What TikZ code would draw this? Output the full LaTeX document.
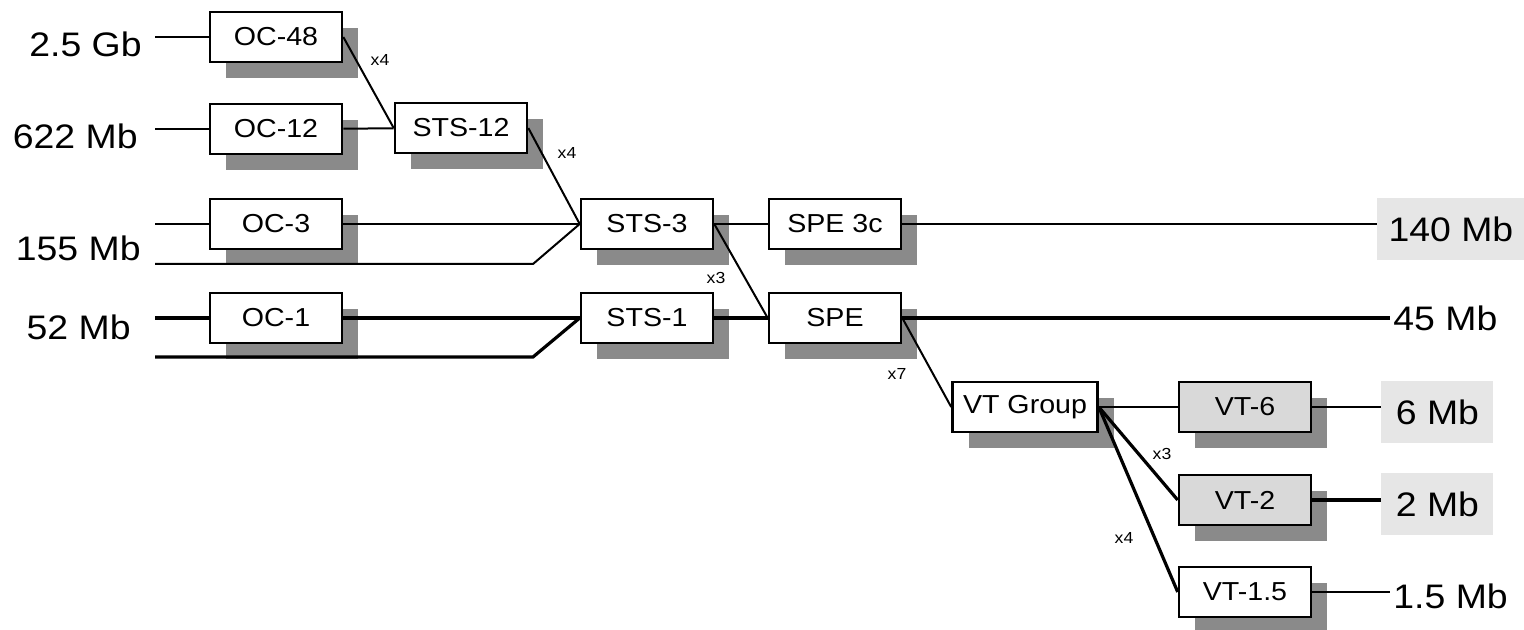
\documentclass[tikz,border=0pt]{standalone}
\usepackage{fontspec}
\setmainfont[FakeStretch=1.1]{Liberation Sans}
\usetikzlibrary{shadows}
\definecolor{shade}{HTML}{8A8A8A}
\definecolor{vtfill}{HTML}{D9D9D9}
\definecolor{ratefill}{HTML}{E6E6E6}

\begin{document}
\begin{tikzpicture}[x=0.5pt, y=-0.5pt,
  box/.style={draw, line width=1.3pt, fill=white, minimum width=66pt,
    minimum height=25pt, inner sep=0pt, font=\fontsize{13}{15}\selectfont,
    drop shadow={shadow xshift=8pt, shadow yshift=-8pt, fill=shade, opacity=1}},
  widebox/.style={box, minimum width=72.5pt},
  vtbox/.style={box, fill=vtfill},
  rate/.style={font=\fontsize{17}{20}\selectfont, inner sep=1.5pt},
  ratebg/.style={rate, fill=ratefill, minimum height=31pt},
  mult/.style={font=\fontsize{8}{9}\selectfont, inner sep=0pt},
  wire/.style={line width=1pt},
  bigwire/.style={line width=1.6pt}]

\useasboundingbox (0,0) rectangle (1524,630);

% Positions measured in pixels of the 1524 x 630 layout, y running down.
% --- Optical carriers ---
\node[box] (OC48) at (276, 37) {OC-48};
\node[box] (OC12) at (276,129) {OC-12};
\node[box] (OC3)  at (276,224) {OC-3};
\node[box] (OC1)  at (276,318) {OC-1};

% --- STS levels ---
\node[box] (STS12) at (461,128) {STS-12};
\node[box] (STS3)  at (647,224) {STS-3};
\node[box] (STS1)  at (647,318) {STS-1};

% --- Payload envelopes ---
\node[box] (SPE3c) at (835,224) {SPE 3c};
\node[box] (SPE)   at (835,318) {SPE};

% --- Virtual tributaries ---
\node[widebox] (VTG) at (1025,407) {VT Group};
\node[vtbox] (VT6)  at (1245,407) {VT-6};
\node[vtbox] (VT2)  at (1245,500) {VT-2};
\node[box]   (VT15) at (1245,592) {VT-1.5};

% --- Rates on the left ---
\node[rate, anchor=east] (r25)  at (145, 44) {2.5 Gb};
\node[rate, anchor=east] (r622) at (141,136) {622 Mb};
\node[rate, anchor=east] (r155) at (144,248) {155 Mb};
\node[rate, anchor=east] (r52)  at (134,327) {52 Mb};

% --- Rates on the right ---
\node[ratebg, anchor=west, minimum width=73.5pt] (r140) at (1377,229) {140 Mb};
\node[rate, anchor=west] (r45) at (1390,318) {45 Mb};
\node[ratebg, anchor=west, minimum width=56pt] (r6) at (1381,412) {6 Mb};
\node[ratebg, anchor=west, minimum width=56pt] (r2) at (1381,504) {2 Mb};
\node[rate, anchor=west] (r15) at (1390,596) {1.5 Mb};

% Free ends of the input lines
\coordinate (in25)    at (155, 37);
\coordinate (in622)   at (155,129);
\coordinate (in155a)  at (155,224);
\coordinate (in155b)  at (155,264);
\coordinate (bend155) at (533,264);
\coordinate (in52a)   at (155,318);
\coordinate (in52b)   at (155,357);
\coordinate (bend52)  at (533,357);

% --- Inputs ---
\draw[wire] (in25) -- (OC48);
\draw[wire] (in622) -- (OC12);
\draw[wire] (in155a) -- (OC3);
\draw[wire] (in155b) -- (bend155) -- (STS3.west);
\draw[bigwire] (in52a) -- (OC1);
\draw[bigwire] (in52b) -- (bend52) -- (STS1.west);

% --- Multiplexing ---
\draw[wire] (OC48.east) -- (STS12.west);
\draw[wire] (OC12) -- (STS12);
\draw[wire] (STS12.east) -- (STS3.west);
\draw[wire] (OC3) -- (STS3);
\draw[bigwire] (OC1) -- (STS1);
\draw[wire] (STS3) -- (SPE3c);
\draw[wire] (STS3.east) -- (SPE.west);
\draw[bigwire] (STS1) -- (SPE);
\draw[wire] (SPE.east) -- (VTG.west);
\draw[wire] (VTG) -- (VT6);
\draw[bigwire] (VTG.east) -- (VT2.west);
\draw[bigwire] (VTG.east) -- (VT15.west);

% --- Outputs ---
\draw[wire] (SPE3c.east) -- (SPE3c.east -| r140.west);
\draw[bigwire] (SPE) -- (r45);
\draw[wire] (VT6.east) -- (VT6.east -| r6.west);
\draw[bigwire] (VT2.east) -- (VT2.east -| r2.west);
\draw[wire] (VT15.east) -- (VT15.east -| r15.west);

% --- Multipliers ---
\node[mult] (m1) at (380, 60) {x4};
\node[mult] (m2) at (567,153) {x4};
\node[mult] (m3) at (716,278) {x3};
\node[mult] (m4) at (897,374) {x7};
\node[mult] (m5) at (1162,454) {x3};
\node[mult] (m6) at (1124,538) {x4};

\end{tikzpicture}
\end{document}
